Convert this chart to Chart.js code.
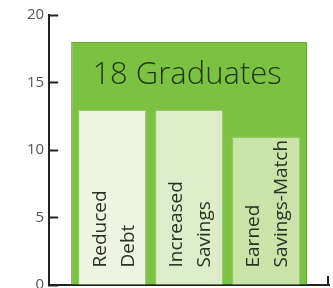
<!DOCTYPE html>
<html><head><meta charset="utf-8">
<script src="https://cdn.jsdelivr.net/npm/chart.js@4/dist/chart.umd.min.js"></script>
<style>
html,body{margin:0;padding:0;overflow:hidden;background:#fff;width:333px;height:288px}
#wrap{position:absolute;left:0;top:-8px;width:333px;height:316px}
</style>
</head><body><div id="wrap"><canvas id="c"></canvas></div>
<script>
const categories = [['Reduced','Debt'],['Increased','Savings'],['Earned','Savings-Match']];
const values = [13, 13, 11];
const totalLabel = '18 Graduates';
const totalValue = 18;
const yTicks = [0, 5, 10, 15, 20];
const barColors = ['#eef4e2', '#ddedc9', '#c9e3a8'];

const smallData = categories.map((c, i) => ({x: i, y: values[i]}));
const bigData = [{x: (categories.length - 1) / 2, y: totalValue}];

const labelPlugin = {
  id: 'barLabels',
  afterDatasetsDraw(chart) {
    const ctx = chart.ctx;
    const big = chart.getDatasetMeta(0).data[0];
    ctx.save();
    ctx.fillStyle = '#1d3614';
    ctx.font = '300 31px "Open Sans"';
    ctx.textAlign = 'center';
    ctx.textBaseline = 'alphabetic';
    ctx.fillText(totalLabel, big.x - 2, big.y + 42);
    ctx.restore();
    const meta = chart.getDatasetMeta(1);
    meta.data.forEach((bar, i) => {
      ctx.save();
      ctx.fillStyle = '#2a3324';
      ctx.font = '19px "Open Sans"';
      ctx.translate(bar.x + 2, bar.base - 17);
      ctx.rotate(-Math.PI / 2);
      ctx.textAlign = 'left';
      ctx.textBaseline = 'middle';
      const lines = categories[i];
      lines.forEach((ln, j) => ctx.fillText(ln, 0, (j - (lines.length - 1) / 2) * 28));
      ctx.restore();
    });
  },
  afterDraw(chart) {
    const ctx = chart.ctx;
    const a = chart.chartArea;
    ctx.save();
    ctx.strokeStyle = '#222';
    ctx.lineWidth = 2;
    ctx.beginPath();
    ctx.moveTo(a.right - 1, a.bottom);
    ctx.lineTo(a.right - 1, a.bottom - 9);
    ctx.stroke();
    ctx.restore();
  }
};

new Chart(document.getElementById('c'), {
  type: 'bar',
  data: {
    datasets: [
      {
        label: totalLabel,
        data: bigData,
        backgroundColor: '#7cc242',
        borderColor: '#6aa83a',
        borderWidth: 1,
        grouped: false,
        order: 2,
        barPercentage: 1,
        categoryPercentage: 3.065
      },
      {
        label: 'Outcomes',
        data: smallData,
        backgroundColor: barColors,
        borderColor: '#93c764',
        borderWidth: 1.5,
        grouped: false,
        order: 1,
        barPercentage: 1,
        categoryPercentage: 0.896
      }
    ]
  },
  options: {
    responsive: true,
    maintainAspectRatio: false,
    animation: false,
    layout: {padding: {left: 13, right: 4, top: 8, bottom: 0}},
    plugins: {legend: {display: false}, tooltip: {enabled: false}},
    scales: {
      x: {
        type: 'linear',
        offset: false,
        min: -0.818,
        max: 2.818,
        ticks: {display: false, stepSize: 1, includeBounds: false},
        grid: {display: false, drawTicks: false, offset: false},
        border: {display: true, color: '#222', width: 2}
      },
      y: {
        min: 0,
        max: 20,
        afterBuildTicks: s => { s.ticks = yTicks.map(v => ({value: v})); },
        ticks: {color: '#555', font: {family: '"Open Sans"', size: 15}, padding: 14},
        grid: {drawOnChartArea: false, tickLength: -9, tickColor: '#222', tickWidth: 2},
        border: {display: true, color: '#222', width: 2}
      }
    }
  },
  plugins: [labelPlugin]
});
</script>
</body></html>
